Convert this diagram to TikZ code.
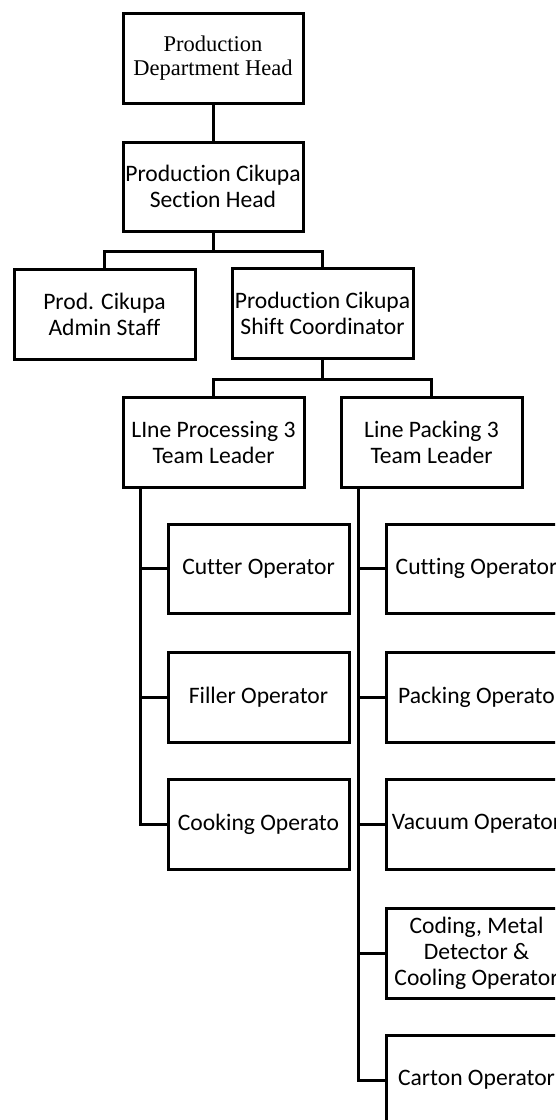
\documentclass[tikz,border=0pt]{standalone}
\usepackage{fontspec}
\setmainfont{Carlito}[Ligatures=NoCommon]
\newfontfamily\serifhead{Liberation Serif}
\begin{document}
\begin{tikzpicture}[x=1pt,y=-1pt,
  box/.style={draw, line width=3pt, minimum width=181pt, minimum height=90pt,
    inner sep=0pt, align=center, font=\fontsize{23.6}{26}\selectfont},
  link/.style={line width=3pt}]
\useasboundingbox (0,0) rectangle (555,1120);
\clip (0,0) rectangle (555,1120);
\fill[white] (0,0) rectangle (555,1120);
% top levels
\node[box, minimum width=180pt, font=\serifhead\fontsize{22.5}{24.5}\selectfont] (head) at (213,58) {Production\\Department Head};
\node[box, minimum width=180pt, minimum height=89pt] (section) at (213,186.5) {Production Cikupa\\Section Head};
\node[box] (admin) at (104.5,314) {Prod. Cikupa\\Admin Staff};
\node[box] (shift) at (322.5,313) {Production Cikupa\\Shift Coordinator};
\node[box] (lproc) at (213.5,442) {LIne Processing 3\\Team Leader};
\node[box] (lpack) at (431.5,442) {Line Packing 3\\Team Leader};
% processing line
\node[box, minimum height=89pt] (cutter) at (258.5,568.5) {Cutter Operator};
\node[box] (filler) at (258.5,697) {Filler Operator};
\node[box] (cooking) at (258.5,824) {Cooking Operato};
% packing line
\node[box, minimum height=89pt] (cutting) at (476.5,568.5) {Cutting Operator};
\node[box] (packing) at (476.5,697) {Packing Operato};
\node[box] (vacuum) at (476.5,824) {Vacuum Operator};
\node[box] (coding) at (476.5,953) {Coding, Metal\\Detector \&\\Cooling Operator};
\node[box] (carton) at (476.5,1080) {Carton Operator};
% connectors
\draw[link] (head.south) -- (section.north);
\coordinate (bus1) at ([yshift=-18.5pt]section.south);
\draw[link] (section.south) -- (bus1);
\draw[link] (bus1) -| (admin.north);
\draw[link] (bus1) -| (shift.north);
\coordinate (bus2) at ([yshift=-20pt]shift.south);
\draw[link] (shift.south) -- (bus2);
\draw[link] (bus2) -| (lproc.north);
\draw[link] (bus2) -| (lpack.north);
\coordinate (spineL) at ([xshift=18.5pt]lproc.south west);
\draw[link] (spineL) |- (cooking.west);
\draw[link] (spineL) |- (cutter.west);
\draw[link] (spineL) |- (filler.west);
\coordinate (spineR) at ([xshift=18.5pt]lpack.south west);
\draw[link] (spineR) |- (carton.west);
\draw[link] (spineR) |- (cutting.west);
\draw[link] (spineR) |- (packing.west);
\draw[link] (spineR) |- (vacuum.west);
\draw[link] (spineR) |- (coding.west);
\end{tikzpicture}
\end{document}
